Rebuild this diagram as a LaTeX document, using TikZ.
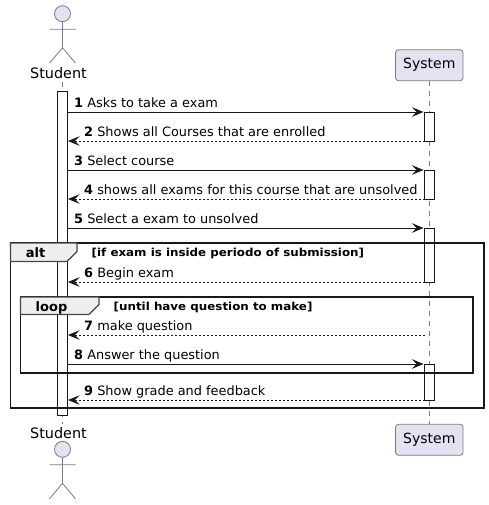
\documentclass[tikz,border=0pt]{standalone}
\usepackage{fontspec}
\setmainfont{DejaVu Sans}
\usetikzlibrary{arrows.meta}
\definecolor{partfill}{HTML}{E2E2F0}
\definecolor{partline}{HTML}{7B7B7F}
\definecolor{tabfill}{HTML}{EEEEEE}
\definecolor{inkc}{HTML}{181818}
\tikzset{
  x=1pt,y=-1pt,
  lifeline/.style={draw=partline,line width=0.7pt,dash pattern=on 5pt off 5pt},
  partbox/.style={draw=partline,fill=partfill,rounded corners=3pt,line width=0.8pt,minimum width=67.5pt,minimum height=31pt,inner sep=0pt,text=black,font=\fontsize{14}{16}\selectfont},
  actorname/.style={inner sep=0pt,text=black,font=\fontsize{14.4}{16}\selectfont},
  actorline/.style={draw=partline,line width=0.8pt},
  actbar/.style={draw=inkc,fill=white,line width=0.9pt},
  msg/.style={draw=inkc,line width=0.8pt,-{Stealth[length=11.5pt,width=9.5pt,inset=4.5pt]}},
  reply/.style={msg,dash pattern=on 2pt off 2pt},
  msglabel/.style={anchor=base west,inner sep=0pt,text=black,font=\fontsize{12.9}{15}\selectfont},
  frameb/.style={draw=inkc,line width=1.4pt},
  frametab/.style={draw=inkc!80,fill=tabfill,line width=1.1pt},
  tablabel/.style={anchor=base,inner sep=0pt,text=black,font=\fontsize{13}{15}\selectfont\bfseries},
  condlabel/.style={anchor=base west,inner sep=0pt,text=black,font=\fontsize{11}{12}\selectfont\bfseries},
}
\newcommand{\actorfig}[1]{%
  \draw[actorline,fill=partfill] (62.5,#1) circle[radius=8pt];
  \draw[actorline] (62.5,#1+8) -- (62.5,#1+34) (49.5,#1+15.5) -- (75.5,#1+15.5)
    (49.5,#1+49.5) -- (62.5,#1+34) -- (75.5,#1+49.5);
}
\newcommand{\num}[1]{\textbf{#1}}
\begin{document}
\begin{tikzpicture}
\useasboundingbox (0,0) rectangle (488,505);
% lifeline ends
\coordinate (sTop) at (62.5,82);
\coordinate (sBot) at (62.5,424);
\coordinate (yTop) at (429.5,81);
\coordinate (yBot) at (429.5,424);
\draw[lifeline] (sTop) -- (sBot);
\draw[lifeline] (yTop) -- (yBot);
% activations
\draw[actbar] (57.5,91) rectangle (67.5,415);
\draw[actbar] (424.5,112) rectangle (434.5,141);
\draw[actbar] (424.5,170) rectangle (434.5,199);
\draw[actbar] (424.5,228) rectangle (434.5,282);
\draw[actbar] (424.5,364) rectangle (434.5,400);
% actors
\actorfig{13.7}
\actorfig{449.3}
\node[actorname,anchor=base] (studentTop) at (58.5,78.5) {Student};
\node[actorname,anchor=base] (studentBot) at (58.5,438.5) {Student};
\node[partbox] (systemTop) at (429.3,65.2) {System};
\node[partbox] (systemBot) at (429.3,439.8) {System};
% frames
\draw[frameb] (10.5,243) rectangle (484,408);
\draw[frametab] (10.5,243) -- (77,243) -- (77,251.5) -- (67,261.5) -- (10.5,261.5) -- cycle;
\node[tablabel] (altL) at (35.5,257) {alt};
\node[condlabel] (altC) at (91.5,256) {\scalebox{1.08}[1]{[if exam is inside periodo of submission]}};
\draw[frameb] (20.5,297) rectangle (473,373);
\draw[frametab] (20.5,297) -- (99,297) -- (99,304.5) -- (89,314.5) -- (20.5,314.5) -- cycle;
\node[tablabel] (loopL) at (51.5,311) {loop};
\node[condlabel] (loopC) at (113.5,310) {\scalebox{1.08}[1]{[until have question to make]}};
% messages
\foreach \n/\y/\st/\txt in {
  m1/112/msg/{\num{1} Asks to take a exam},
  m3/170/msg/{\num{3} Select course},
  m5/228/msg/{\num{5} Select a exam to unsolved},
  m8/364/msg/{\num{8} Answer the question}}{
  \coordinate (\n a) at (67.5,\y);
  \coordinate (\n b) at (423.5,\y);
  \draw[\st] (\n a) -- (\n b);
  \node[msglabel] (\n t) at (74,\y-4.3) {\txt};
}
\foreach \n/\y/\st/\txt in {
  m2/141/reply/{\num{2} Shows all Courses that are enrolled},
  m4/199/reply/{\num{4} shows all exams for this course that are unsolved},
  m6/282/reply/{\num{6} Begin exam},
  m7/335/reply/{\num{7} make question},
  m9/400/reply/{\num{9} Show grade and feedback}}{
  \coordinate (\n a) at (424.5,\y);
  \coordinate (\n b) at (68,\y);
  \draw[\st] (\n a) -- (\n b);
  \node[msglabel] (\n t) at (84,\y-4.3) {\txt};
}
\end{tikzpicture}
\end{document}
